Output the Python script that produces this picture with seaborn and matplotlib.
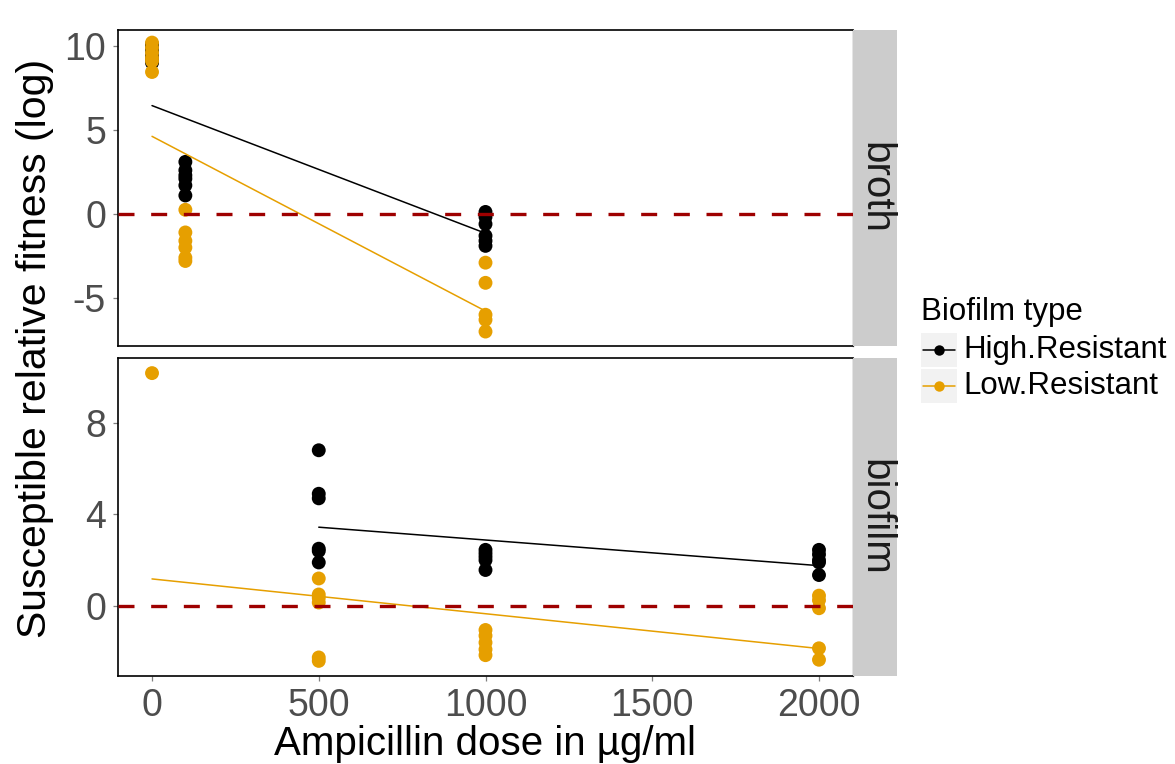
import numpy as np
import pandas as pd
import matplotlib
matplotlib.use("Agg")
import matplotlib.pyplot as plt
from matplotlib.patches import Rectangle
from matplotlib.lines import Line2D
import seaborn as sns

# ---- data -------------------------------------------------------------
TYPES = ["High.Resistant", "Low.Resistant"]
MEDIA = ["broth", "biofilm"]
COLORS = {"High.Resistant": "#000000", "Low.Resistant": "#E69F00"}

# broth: replicate fitness values per ampicillin dose
broth_doses = [0, 100, 1000]
broth_high = [[10.1, 9.9, 9.7, 9.4, 9.2, 9.0],
              [3.1, 2.6, 2.3, 2.1, 1.7, 1.1],
              [0.12, -0.18, -0.6, -1.3, -1.6, -1.9]]
broth_low = [[10.2, 9.9, 9.6, 9.3, 9.1, 8.45],
             [0.25, -1.1, -1.6, -2.0, -2.6, -2.8],
             [-2.9, -4.1, -6.0, -6.3, -7.0]]

# biofilm
biofilm_high_doses = [500, 1000, 2000]
biofilm_high = [[6.8, 4.9, 4.7, 2.5, 2.4, 1.9],
                [2.45, 2.3, 2.15, 2.0, 1.57],
                [2.45, 2.25, 2.0, 1.9, 1.35]]
biofilm_low_doses = [0, 500, 1000, 2000]
biofilm_low = [[10.17],
               [1.2, 0.5, 0.35, 0.15, -2.25, -2.4],
               [-1.05, -1.3, -1.6, -1.9, -2.15],
               [0.45, 0.25, -0.1, -1.85, -2.35]]

# linear model fits (intercept, slope per ug/ml), ordered as TYPES
broth_fit_intercept = [6.45, 4.62]
broth_fit_slope = [-0.0076, -0.0104]
biofilm_fit_intercept = [4.00, 1.18]
biofilm_fit_slope = [-0.00112, -0.00152]

X_TICKS = [0, 500, 1000, 1500, 2000]
BROTH_Y_TICKS = [-5, 0, 5, 10]
BIOFILM_Y_TICKS = [0, 4, 8]


def long_form(medium, btype, doses, groups):
    rows = []
    for d, vals in zip(doses, groups):
        for v in vals:
            rows.append({"medium": medium, "type": btype, "dose": d, "fitness": v})
    return rows


records = []
records += long_form("broth", "High.Resistant", broth_doses, broth_high)
records += long_form("broth", "Low.Resistant", broth_doses, broth_low)
records += long_form("biofilm", "High.Resistant", biofilm_high_doses, biofilm_high)
records += long_form("biofilm", "Low.Resistant", biofilm_low_doses, biofilm_low)
df = pd.DataFrame(records)

fits = {
    "broth": (broth_fit_intercept, broth_fit_slope),
    "biofilm": (biofilm_fit_intercept, biofilm_fit_slope),
}

# ---- figure -----------------------------------------------------------
sns.set_theme(style="white")
plt.rcParams["font.family"] = ["Liberation Sans", "DejaVu Sans"]
plt.rcParams["axes.unicode_minus"] = False

W, H = 1175, 764
fig = plt.figure(figsize=(W / 100, H / 100), dpi=100)
fig.patch.set_facecolor("white")


def px_axes(x0, y0, x1, y1):
    return fig.add_axes([x0 / W, 1 - y1 / H, (x1 - x0) / W, (y1 - y0) / H])


panel_px = {"broth": (118, 30, 853, 346), "biofilm": (118, 358, 853, 676)}
ylims = {"broth": (-7.86, 10.95), "biofilm": (-3.06, 10.83)}
yticks = {"broth": BROTH_Y_TICKS, "biofilm": BIOFILM_Y_TICKS}

TICK_FS = 27
for medium in MEDIA:
    x0, y0, x1, y1 = panel_px[medium]
    ax = px_axes(x0, y0, x1, y1)
    sub = df[df["medium"] == medium]

    sns.scatterplot(data=sub, x="dose", y="fitness", hue="type", hue_order=TYPES,
                    palette=COLORS, s=100, linewidth=0, legend=False, ax=ax,
                    zorder=2)

    icpt, slope = fits[medium]
    for i, t in enumerate(TYPES):
        g = sub[sub["type"] == t]
        xs = np.array([g["dose"].min(), g["dose"].max()])
        sns.lineplot(x=xs, y=icpt[i] + slope[i] * xs, color=COLORS[t],
                     linewidth=1.1, ax=ax, zorder=3)

    ax.axhline(0, color="#9E0000", linewidth=2.4, linestyle=(0, (4.8, 5.0)),
               zorder=4)

    ax.set_xlim(-102, 2102)
    ax.set_ylim(*ylims[medium])
    ax.set_yticks(yticks[medium])
    ax.set_yticklabels([str(v) for v in yticks[medium]])
    ax.set_xticks(X_TICKS)
    ax.set_xlabel("")
    ax.set_ylabel("")
    ax.tick_params(axis="both", direction="out", length=3.6, width=0.9,
                   color="#7F7F7F", labelcolor="#4D4D4D", labelsize=TICK_FS,
                   pad=5)
    ax.tick_params(axis="y", left=True)
    if medium == "broth":
        ax.tick_params(axis="x", bottom=False, labelbottom=False)
    else:
        ax.tick_params(axis="x", bottom=True, labelbottom=True)
        ax.set_xticklabels([str(v) for v in X_TICKS])
    for side in ["top", "left", "bottom"]:
        ax.spines[side].set_color("black")
        ax.spines[side].set_linewidth(1.2)
    ax.spines["right"].set_color("#7F7F7F")
    ax.spines["right"].set_linewidth(1.0)
    ax.grid(False)

    # facet strip
    sax = px_axes(853, y0, 897, y1)
    sax.set_facecolor("#CCCCCC")
    for s in sax.spines.values():
        s.set_visible(False)
    sax.set_xticks([])
    sax.set_yticks([])
    sax.text(0.5, 0.5, medium, rotation=-90, ha="center", va="center",
             fontsize=29, color="#1A1A1A", transform=sax.transAxes)

# axis titles
fig.text(485 / W, 1 - 744 / H, "Ampicillin dose in µg/ml", ha="center",
         va="center", fontsize=29, color="black")
fig.text(35 / W, 1 - 348 / H, "Susceptible relative fitness (log)",
         rotation=90, ha="center", va="center", fontsize=29.5, color="black")

# legend
lax = px_axes(0, 0, W, H)
lax.set_xlim(0, W)
lax.set_ylim(H, 0)
lax.axis("off")
lax.text(921, 312, "Biofilm type", ha="left", va="center", fontsize=22.5,
         color="black")
for i, t in enumerate(TYPES):
    top = 333 + i * 36
    lax.add_patch(Rectangle((921, top), 36, 34, facecolor="#F2F2F2",
                            edgecolor="none"))
    cy = top + 17
    lax.add_line(Line2D([923, 955], [cy, cy], color=COLORS[t], linewidth=1.1))
    lax.add_line(Line2D([939], [cy], marker="o", markersize=7.5,
                        markerfacecolor=COLORS[t], markeredgewidth=0,
                        linestyle="none"))
    lax.text(963, cy, t, ha="left", va="center", fontsize=22.5, color="black")

fig.savefig("out.png", dpi=100, facecolor="white")
